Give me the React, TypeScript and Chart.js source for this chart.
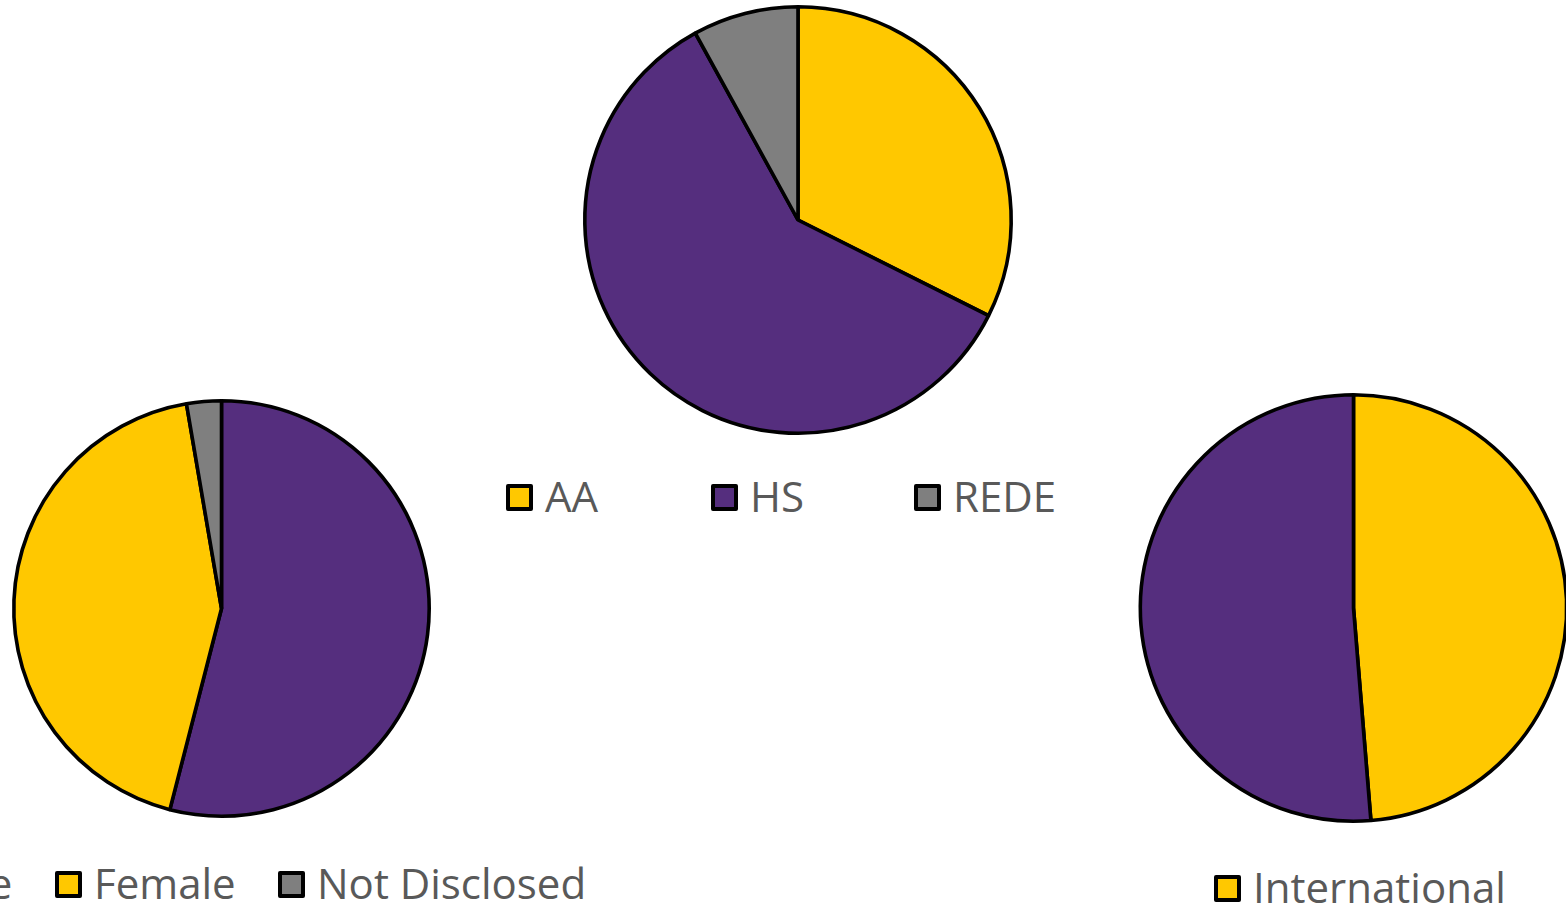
import React, { useEffect, useRef } from "react";
import { Chart, registerables } from "chart.js";

Chart.register(...registerables);

const YELLOW = "#FFC800";
const PURPLE = "#552E7E";
const GRAY = "#7F7F7F";

// Chart 1 (top centre)
const programLabels = ["AA", "HS", "REDE"];
const programValues = [32.4, 59.6, 8.0];
const programColors = [YELLOW, PURPLE, GRAY];

// Chart 2 (left)
const genderLabels = ["Male", "Female", "Not Disclosed"];
const genderValues = [54.0, 43.3, 2.7];
const genderColors = [PURPLE, YELLOW, GRAY];

// Chart 3 (right)
const originLabels = ["International", "Domestic"];
const originValues = [48.7, 51.3];
const originColors = [YELLOW, PURPLE];

type PieProps = {
  labels: string[];
  values: number[];
  colors: string[];
  left: number;
  top: number;
  width: number;
  height: number;
  radius: number;
  legendTop: number;
  legendLefts: number[];
};

function Pie(props: PieProps) {
  const ref = useRef<HTMLCanvasElement | null>(null);
  useEffect(() => {
    if (!ref.current) return;
    const chart = new Chart(ref.current, {
      type: "pie",
      data: {
        labels: props.labels,
        datasets: [
          {
            data: props.values,
            backgroundColor: props.colors,
            borderColor: "#000000",
            borderWidth: 3.6,
            hoverOffset: 0,
            radius: props.radius,
          } as any,
        ],
      },
      options: {
        responsive: false,
        maintainAspectRatio: false,
        animation: false,
        devicePixelRatio: 1,
        events: [],
        layout: { padding: 0 },
        plugins: {
          legend: { display: false },
          tooltip: { enabled: false },
        },
      } as any,
    });
    return () => chart.destroy();
  }, []);

  return (
    <>
      <canvas
        ref={ref}
        width={props.width}
        height={props.height}
        style={{
          position: "absolute",
          left: props.left,
          top: props.top,
          width: props.width,
          height: props.height,
        }}
      />
      {props.labels.map((lab, i) => (
        <div
          key={lab}
          style={{
            position: "absolute",
            left: props.legendLefts[i],
            top: props.legendTop,
            height: 41,
            display: "flex",
            alignItems: "center",
            whiteSpace: "nowrap",
          }}
        >
          <div
            style={{
              width: 27,
              height: 27,
              boxSizing: "border-box",
              border: "4px solid #000",
              borderRadius: 2,
              background: props.colors[i],
              marginRight: 12,
              flex: "none",
            }}
          />
          <span
            style={{
              fontFamily: '"Open Sans", sans-serif',
              fontSize: 42,
              lineHeight: "41px",
              color: "#595959",
              position: "relative",
              top: -2,
            }}
          >
            {lab}
          </span>
        </div>
      ))}
    </>
  );
}

export default function App() {
  return (
    <div
      style={{
        position: "fixed",
        left: 0,
        top: 0,
        width: 1566,
        height: 906,
        overflow: "hidden",
        background: "#ffffff",
      }}
    >
      <Pie
        labels={programLabels}
        values={programValues}
        colors={programColors}
        left={578}
        top={0}
        width={440}
        height={440}
        radius={213.2}
        legendTop={477}
        legendLefts={[506, 711, 914]}
      />
      <Pie
        labels={genderLabels}
        values={genderValues}
        colors={genderColors}
        left={1}
        top={388}
        width={441}
        height={441}
        radius={207.7}
        legendTop={864}
        legendLefts={[-122, 55, 278]}
      />
      <Pie
        labels={originLabels}
        values={originValues}
        colors={originColors}
        left={1133}
        top={388}
        width={441}
        height={440}
        radius={213.2}
        legendTop={868}
        legendLefts={[1214, 1580]}
      />
    </div>
  );
}
